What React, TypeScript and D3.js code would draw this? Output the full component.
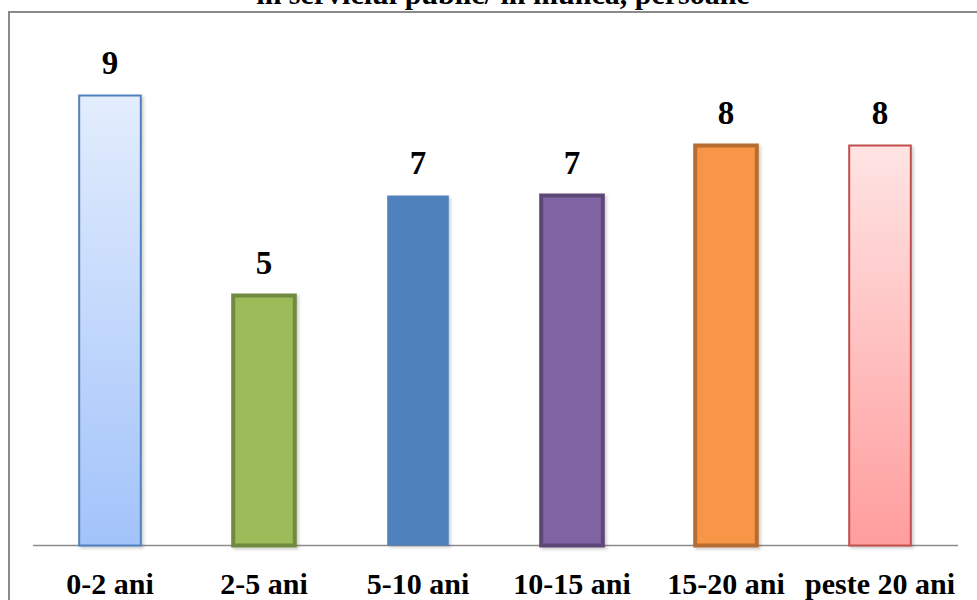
import React from "react";
import * as d3 from "d3";

const categories = ["0-2 ani", "2-5 ani", "5-10 ani", "10-15 ani", "15-20 ani", "peste 20 ani"];
const values = [9, 5, 7, 7, 8, 8];
const fills = ["url(#gBlue)", "#9bbb59", "#4f81bd", "#8064a2", "#f79646", "url(#gPink)"];
const strokes = ["#4f81bd", "#71893f", "none", "#5c4776", "#b66d31", "#c0504d"];
const strokeWidths = [2, 4, 0, 4, 4, 2];
const title = "în serviciul public/ în muncă, persoane";

const W = 977;
const H = 600;
const FONT = "Liberation Serif, DejaVu Serif, serif";

export default function App() {
  const x = d3.scaleBand<string>().domain(categories).range([33, 957]).paddingInner(0.6).paddingOuter(0.3);
  const y = d3.scaleLinear().domain([0, 9]).range([545.5, 95.5]);
  const bw = x.bandwidth();
  return (
    <svg width={W} height={H} style={{ position: "absolute", left: 0, top: 0, background: "#fff" }}>
      <defs>
        <linearGradient id="gBlue" x1="0" y1="0" x2="0" y2="1">
          <stop offset="0" stopColor="#e3edfd" />
          <stop offset="1" stopColor="#a2c3fa" />
        </linearGradient>
        <linearGradient id="gPink" x1="0" y1="0" x2="0" y2="1">
          <stop offset="0" stopColor="#ffe4e4" />
          <stop offset="1" stopColor="#ff9d9d" />
        </linearGradient>
        <filter id="sh" x="-20%" y="-10%" width="140%" height="120%">
          <feDropShadow dx="2" dy="2" stdDeviation="1.5" floodColor="#000" floodOpacity="0.18" />
        </filter>
      </defs>
      <text x={503} y={4} textAnchor="middle" style={{ fontFamily: FONT }} fontWeight="bold" fontSize={30} fill="#000">
        {title}
      </text>
      <line x1={9} x2={977} y1={12} y2={12} stroke="#8a8a8a" strokeWidth={2} />
      <line x1={9} x2={9} y1={11} y2={600} stroke="#8a8a8a" strokeWidth={2} />
      <line x1={33} x2={958} y1={545.5} y2={545.5} stroke="#8c8c8c" strokeWidth={1.5} />
      {categories.map((c, i) => {
        const x0 = x(c)!;
        const y0 = y(values[i]);
        return (
          <g key={c}>
            <rect
              x={x0}
              y={y0}
              width={bw}
              height={y(0) - y0}
              fill={fills[i]}
              stroke={strokes[i]}
              strokeWidth={strokeWidths[i]}
              filter="url(#sh)"
            />
            <text
              x={x0 + bw / 2}
              y={y0 - 22}
              textAnchor="middle"
              style={{ fontFamily: FONT }}
              fontWeight="bold"
              fontSize={33}
              fill="#000"
            >
              {values[i]}
            </text>
            <text
              x={x0 + bw / 2}
              y={594}
              textAnchor="middle"
              style={{ fontFamily: FONT }}
              fontWeight="bold"
              fontSize={30}
              fill="#000"
            >
              {c}
            </text>
          </g>
        );
      })}
    </svg>
  );
}
